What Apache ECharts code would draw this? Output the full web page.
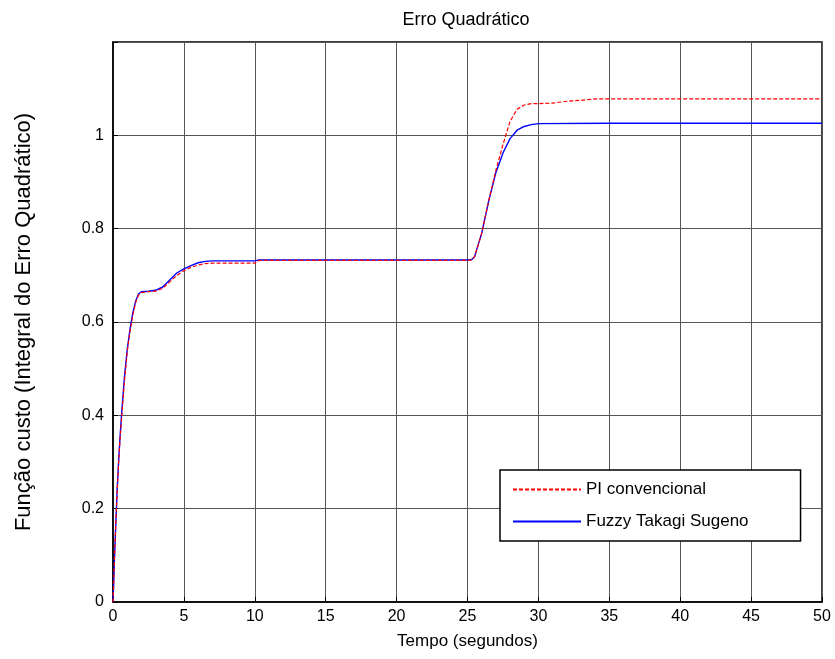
<!DOCTYPE html>
<html><head><meta charset="utf-8">
<script src="https://cdn.jsdelivr.net/npm/echarts@6/dist/echarts.min.js"></script>
<style>html,body{margin:0;padding:0;background:#fff}#c{width:835px;height:659px}</style>
</head><body><div id="c"></div>
<script>
const title = 'Erro Quadrático';
const xName = 'Tempo (segundos)';
const yName = 'Função custo (Integral do Erro Quadrático)';
const seriesNames = ['PI convencional', 'Fuzzy Takagi Sugeno'];
const xTicks = [0, 5, 10, 15, 20, 25, 30, 35, 40, 45, 50];
const yTicks = [0, 0.2, 0.4, 0.6, 0.8, 1];

const tPI = [0, 0.05, 0.1, 0.2, 0.3, 0.4, 0.5, 0.6, 0.8, 1.0, 1.2, 1.4, 1.6, 1.8, 2.0, 2.5, 3.0, 3.5, 4.0, 4.5, 5.0, 5.5, 6.0, 6.5, 7, 10, 10.3, 15, 20, 25, 25.3, 25.5, 26, 26.5, 27, 27.5, 28, 28.5, 29, 29.5, 30, 31, 32, 33, 34, 40, 45, 50];
const yPI = [0, 0.04, 0.09, 0.17, 0.24, 0.30, 0.35, 0.39, 0.47, 0.535, 0.58, 0.615, 0.642, 0.658, 0.663, 0.665, 0.666, 0.672, 0.686, 0.700, 0.710, 0.717, 0.722, 0.725, 0.726, 0.726, 0.732, 0.732, 0.732, 0.732, 0.733, 0.74, 0.79, 0.86, 0.925, 0.98, 1.03, 1.056, 1.065, 1.068, 1.068, 1.069, 1.073, 1.075, 1.078, 1.078, 1.078, 1.078];

const tFTS = [0, 0.05, 0.1, 0.2, 0.3, 0.4, 0.5, 0.6, 0.8, 1.0, 1.2, 1.4, 1.6, 1.8, 2.0, 2.5, 3.0, 3.5, 4.0, 4.5, 5.0, 5.5, 6.0, 6.5, 7, 10, 10.3, 15, 20, 25, 25.3, 25.5, 26, 26.5, 27, 27.5, 28, 28.5, 29, 29.5, 30, 35, 40, 45, 50];
const yFTS = [0, 0.04, 0.09, 0.17, 0.245, 0.305, 0.355, 0.40, 0.48, 0.54, 0.585, 0.62, 0.645, 0.66, 0.665, 0.666, 0.668, 0.675, 0.690, 0.705, 0.714, 0.721, 0.727, 0.730, 0.731, 0.731, 0.733, 0.733, 0.733, 0.733, 0.734, 0.74, 0.79, 0.86, 0.92, 0.962, 0.993, 1.011, 1.019, 1.023, 1.025, 1.026, 1.026, 1.026, 1.026];

const font = 'Liberation Sans, Arial, sans-serif';
const chart = echarts.init(document.getElementById('c'));
chart.setOption({
  animation: false,
  backgroundColor: '#fff',
  title: { text: title, left: 461, top: 6, textAlign: 'center',
    textStyle: { fontFamily: font, fontSize: 18, fontWeight: 'normal', color: '#000' } },
  grid: { left: 113, right: 13, top: 42, bottom: 57, show: true, borderColor: '#000', borderWidth: 1.5 },
  xAxis: {
    type: 'value', min: 0, max: 50, interval: 5,
    name: xName, nameLocation: 'middle', nameGap: 31,
    nameTextStyle: { fontFamily: font, fontSize: 17, color: '#000' },
    axisLine: { lineStyle: { color: '#000', width: 1.5 } },
    axisTick: { inside: true, length: 5, lineStyle: { color: '#000' } },
    axisLabel: { fontFamily: font, fontSize: 16, color: '#000', margin: 7,
      formatter: v => xTicks.includes(v) ? String(v) : '' },
    splitLine: { show: true, lineStyle: { color: '#555', width: 1 } }
  },
  yAxis: {
    type: 'value', min: 0, max: 1.2, interval: 0.2,
    name: yName, nameLocation: 'middle', nameGap: 78, nameRotate: 90,
    nameTextStyle: { fontFamily: font, fontSize: 22, color: '#000' },
    axisLine: { lineStyle: { color: '#000', width: 1.5 } },
    axisTick: { inside: true, length: 5, lineStyle: { color: '#000' } },
    axisLabel: { fontFamily: font, fontSize: 16, color: '#000', margin: 9,
      formatter: v => yTicks.some(t => Math.abs(t - v) < 1e-9) ? String(Math.round(v * 10) / 10) : '' },
    splitLine: { show: true, lineStyle: { color: '#555', width: 1 } }
  },
  legend: {
    orient: 'vertical', left: 500, top: 470,
    backgroundColor: '#fff', borderColor: '#000', borderWidth: 1.5,
    padding: [11, 52, 11, 12], itemGap: 15, itemWidth: 68, itemHeight: 16,
    itemStyle: { opacity: 0 },
    textStyle: { fontFamily: font, fontSize: 17, color: '#000' },
    data: seriesNames
  },
  series: [
    { name: seriesNames[0], type: 'line', showSymbol: false, symbol: 'none',
      data: tPI.map((t, i) => [t, yPI[i]]), z: 3,
      lineStyle: { color: '#ff0000', width: 1.2, type: [4, 2] }, itemStyle: { color: '#ff0000' } },
    { name: seriesNames[1], type: 'line', showSymbol: false, symbol: 'none',
      data: tFTS.map((t, i) => [t, yFTS[i]]), z: 2,
      lineStyle: { color: '#0000ff', width: 1.4 }, itemStyle: { color: '#0000ff' } }
  ]
});
</script></body></html>
